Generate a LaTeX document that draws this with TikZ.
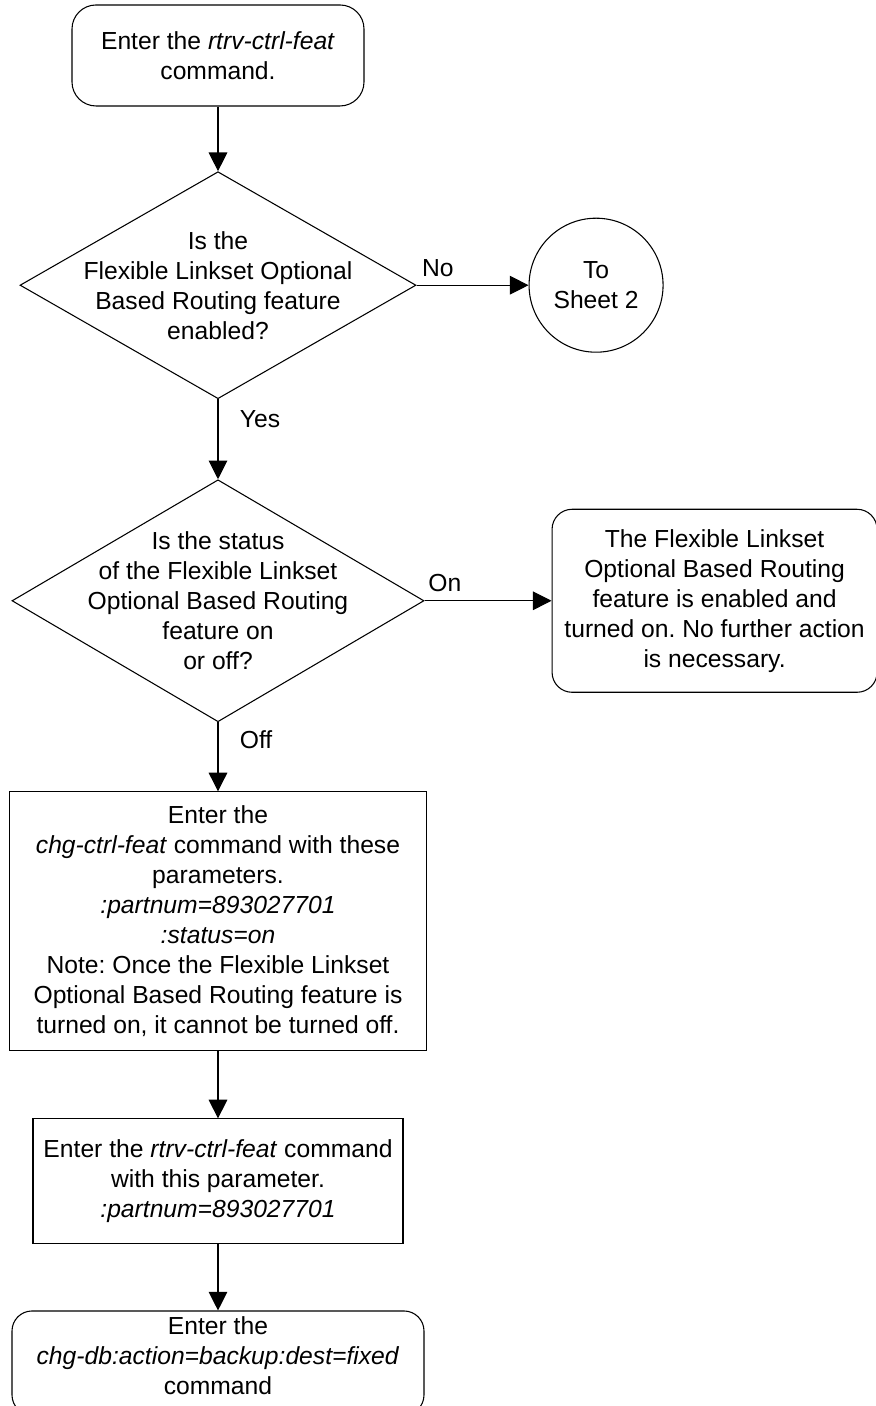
\documentclass[tikz,border=0pt]{standalone}
\usepackage{fontspec}
\setmainfont{Liberation Sans}
\usetikzlibrary{shapes.geometric, arrows.meta, positioning}
\frenchspacing

\begin{document}
\begin{tikzpicture}[
    font=\fontsize{18.5}{22.5}\selectfont,
    line width=0.8pt,
    >={Triangle[length=14pt, width=14pt]},
    terminal/.style={draw, rectangle, rounded corners=18pt, align=center, inner sep=0pt},
    process/.style={draw, rectangle, align=center, inner sep=0pt},
    decision/.style={draw, diamond, inner sep=0pt},
    offpage/.style={draw, circle, align=center, inner sep=0pt},
    answer/.style={inner sep=2pt}
  ]

    % Page size, same proportions as the reference
    \useasboundingbox (0,0) rectangle (656.25pt,-1054.5pt);

    % Start: retrieve the controlled features
    \node[terminal, 
          minimum width=219pt, 
          minimum height=75.75pt] 
          (start) at (163.5pt,-41.6pt) {Enter the \textit{rtrv-ctrl-feat}\\command.};

    % Question 1: the diamond, its text laid on top of it
    \node[decision, 
          minimum width=297pt, 
          minimum height=170.25pt] 
          (enabled) [below=48.5pt of start] {};
    \node[align=center] (enabledtext) at (enabled) {Is the\\Flexible Linkset Optional\\Based Routing feature\\enabled?};

    % Off-page connector
    \node[offpage, minimum size=100.5pt] (sheet2) [right=84pt of enabled] {To\\Sheet 2};

    % Question 2
    \node[decision, 
          minimum width=309pt, 
          minimum height=181.5pt] 
          (status) [below=60pt of enabled] {};
    \node[align=center] (statustext) at (status) {Is the status\\of the Flexible Linkset\\Optional Based Routing\\feature on\\or off?};

    % Nothing more to do
    \node[terminal, 
          rounded corners=15pt, 
          minimum width=243.75pt, 
          minimum height=137.25pt] 
          (done) [right=95.25pt of status] {The Flexible Linkset\\Optional Based Routing\\feature is enabled and\\turned on. No further action\\is necessary.};

    % Turn the feature on
    \node[process, 
          minimum width=312.75pt, 
          minimum height=194.25pt] 
          (chgfeat) [below=51.75pt of status] {Enter the\\\textit{chg-ctrl-feat} command with these\\parameters.\\\textit{:partnum=893027701}\\\textit{:status=on}\\Note: Once the Flexible Linkset\\Optional Based Routing feature is\\turned on, it cannot be turned off.};

    % Check it
    \node[process, 
          minimum width=277.5pt, 
          minimum height=93.75pt] 
          (rtrvfeat) [below=50.25pt of chgfeat] {Enter the \textit{rtrv-ctrl-feat} command\\with this parameter.\\\textit{:partnum=893027701}};

    % Back up the database (the box runs off the bottom edge, text hangs from its top)
    \node[terminal, 
          rounded corners=15pt, 
          minimum width=309pt, 
          minimum height=78pt] 
          (backup) [below=49.5pt of rtrvfeat] {};
    \node[align=center, anchor=north, inner sep=0pt] (backuptext) at ([yshift=-4pt]backup.north) {Enter the\\\textit{chg-db:action=backup:dest=fixed}\\command};

    % Arrows between the nodes
    \draw[->] (start) -- (enabled);
    \draw[->] (enabled) -- node[answer, pos=0.19, above=4pt] {No} (sheet2);
    \draw[->] (enabled) -- node[answer, pos=0.25, right=14pt] {Yes} (status);
    \draw[->] (status) -- node[answer, pos=0.16, above=4pt] {On} (done);
    \draw[->] (status) -- node[answer, pos=0.25, right=14pt] {Off} (chgfeat);
    \draw[->] (chgfeat) -- (rtrvfeat);
    \draw[->] (rtrvfeat) -- (backup);

\end{tikzpicture}
\end{document}
